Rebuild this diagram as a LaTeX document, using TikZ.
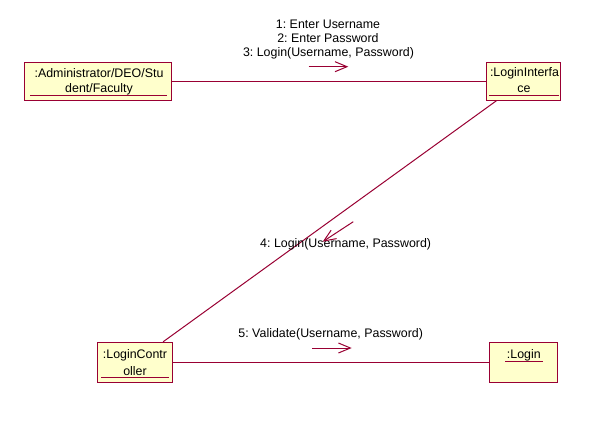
\documentclass[tikz,border=0pt]{standalone}
\usepackage{fontspec}
\setmainfont{Liberation Sans}
\frenchspacing
\usetikzlibrary{arrows.meta}
\definecolor{umlline}{RGB}{153,0,51}
\definecolor{umlfill}{RGB}{255,255,204}
\tikzset{
  obj/.style={draw=umlline, fill=umlfill, line width=0.75pt, inner sep=0pt, rectangle},
  txt/.style={font=\fontsize{9.3pt}{11pt}\selectfont\frenchspacing, inner sep=0pt, text=black},
  link/.style={draw=umlline, line width=0.75pt},
  msg/.style={draw=umlline, line width=0.75pt, -{Straight Barb[length=9pt,width=7.5pt,line width=0.75pt]}},
  uline/.style={draw=umlline, line width=0.75pt}
}
\begin{document}
\begin{tikzpicture}[x=0.75pt,y=-0.75pt]
\useasboundingbox[fill=white] (0,0) rectangle (611,429);
% objects
\node[obj, minimum width=110pt, minimum height=28.5pt] (adm) at (98.3,81) {};
\node[obj, minimum width=55.5pt, minimum height=28.5pt] (li) at (523.7,81) {};
\node[obj, minimum width=56.25pt, minimum height=30pt] (lc) at (134.8,362.3) {};
\node[obj, minimum width=50.75pt, minimum height=30pt] (lg) at (523.8,362.3) {};
% object texts
\node[txt] (adm1) at (99,73) {:Administrator/DEO/Stu};
\node[txt] (adm2) at (99,89) {dent/Faculty};
\coordinate (admu1) at (30,95); \coordinate (admu2) at (167,95);
\draw[uline] (admu1) -- (admu2);
\node[txt] (li1) at (524.5,73.3) {:LoginInterfa};
\node[txt] (li2) at (524,89) {ce};
\coordinate (liu1) at (489,95); \coordinate (liu2) at (559,95);
\draw[uline] (liu1) -- (liu2);
\node[txt] (lc1) at (135,355.7) {:LoginContr};
\node[txt] (lc2) at (135,370.7) {oller};
\coordinate (lcu1) at (101,377.3); \coordinate (lcu2) at (169,377.3);
\draw[uline] (lcu1) -- (lcu2);
\node[txt] (lg1) at (523.8,355) {:Login};
\coordinate (lgu1) at (505,361); \coordinate (lgu2) at (542.7,361);
\draw[uline] (lgu1) -- (lgu2);
% links
\draw[link] (adm) -- (li);
\draw[link] (li) -- (lc);
\draw[link] (lc) -- (lg);
% messages
\node[txt] (m1) at (328,24) {1: Enter Username};
\node[txt] (m2) at (328,38.5) {2: Enter Password};
\node[txt] (m3) at (328.5,53) {3: Login(Username, Password)};
\coordinate (a1s) at (308.7,66.7); \coordinate (a1e) at (348.3,66.7);
\draw[msg] (a1s) -- (a1e);
\node[txt] (m4) at (345.7,244) {4: Login(Username, Password)};
\coordinate (a4s) at (353.3,221.7); \coordinate (a4e) at (322.7,241.7);
\draw[msg] (a4s) -- (a4e);
\node[txt] (m5) at (330.7,334.3) {5: Validate(Username, Password)};
\coordinate (a5s) at (312,348); \coordinate (a5e) at (351.7,348);
\draw[msg] (a5s) -- (a5e);
\end{tikzpicture}
\end{document}
